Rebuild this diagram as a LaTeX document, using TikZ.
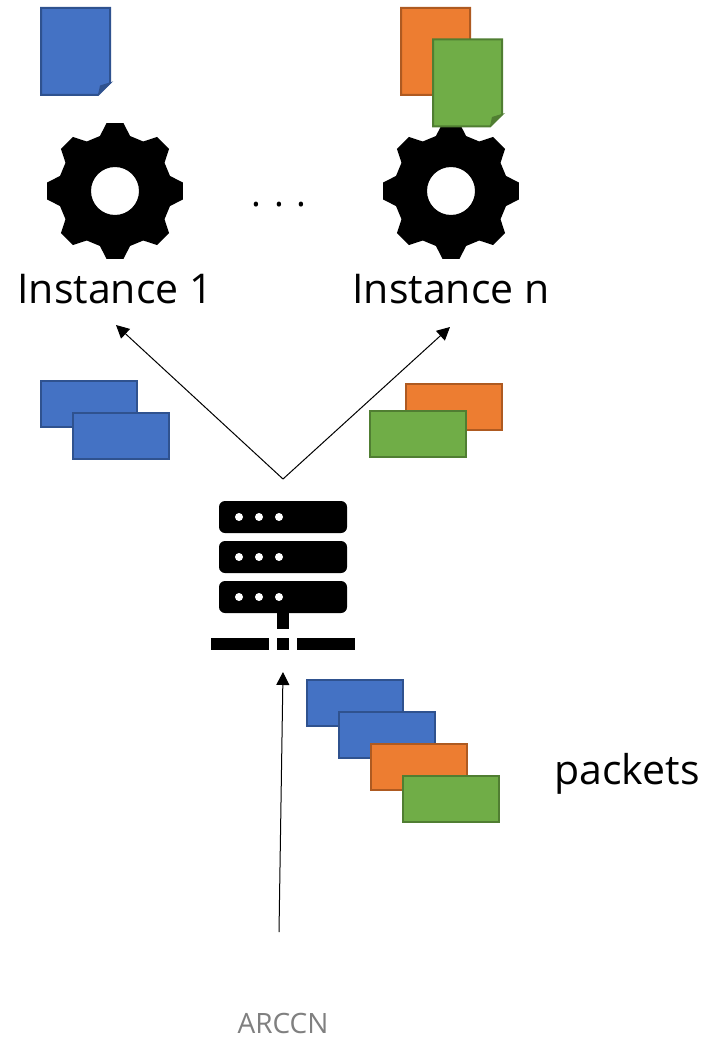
\documentclass[tikz,border=0pt]{standalone}
\usepackage{fontspec}
\setmainfont{Open Sans}
\usetikzlibrary{arrows.meta}
\definecolor{blueF}{HTML}{4472C4}
\definecolor{blueD}{HTML}{2F528F}
\definecolor{orangeF}{HTML}{ED7D31}
\definecolor{orangeD}{HTML}{AE5A21}
\definecolor{greenF}{HTML}{70AD47}
\definecolor{greenD}{HTML}{507E32}
\begin{document}
\begin{tikzpicture}[x=1pt,y=-1pt,
  packet/.style={draw=#1D,fill=#1F,line width=2pt,minimum width=96pt,minimum height=46pt,inner sep=0pt},
  label/.style={font=\fontsize{41}{44}\selectfont,text=black,inner sep=0pt},
  bar/.style={fill=black,rounded corners=6pt,minimum width=128pt,minimum height=32pt,inner sep=0pt},
  base/.style={fill=black,minimum height=12pt,inner sep=0pt},
  flow/.style={-{Triangle[length=13pt,width=13pt]},line width=1pt},
  gear/.pic={
    \fill[black,even odd rule] (-7.1:68.5)
      foreach \a in {0,45,...,315} {
        -- ({\a-7.1}:68.5) -- ({\a+7.1}:68.5) -- ({\a+15.3}:57) -- ({\a+29.7}:57)
      } -- cycle (0,0) circle (24);
  },
  doc/.pic={
    \draw[draw=#1D,fill=#1F,line width=2pt] (-34.5,-43.5) -- (34.5,-43.5) -- (34.5,31.5) -- (22.5,43.5) -- (-34.5,43.5) -- cycle;
    \fill[#1D] (22.5,43.5) -- (24.5,34) -- (37.5,30) -- cycle;
  }]
\useasboundingbox (0,0) rectangle (705,1038);

% instances
\pic (gear1) at (115,191) {gear};
\pic (gearn) at (451,191) {gear};
\pic (doc1) at (75.5,51.5) {doc=blue};
\pic (doc2) at (435.5,51.5) {doc=orange};
\pic (doc3) at (467.5,83) {doc=green};
\node [label] (inst1) at (115,289) {Instance 1};
\node [label] (instn) at (451,289) {Instance n};
\node [label,font=\fontsize{37}{40}\selectfont] (dots) at (279,205) {. . .};

% packets above the server
\node [packet=blue] (p1) at (89,403.5) {};
\node [packet=blue] (p2) at (121,435.5) {};
\node [packet=orange] (p3) at (453.5,406.5) {};
\node [packet=green] (p4) at (417.5,433.5) {};

% server
\node [bar] (bar1) at (283,517) {};
\node [bar] (bar2) at (283,557) {};
\node [bar] (bar3) at (283,597) {};
\foreach \y in {517,557,597}
  \foreach \x in {239,259,279}
    \fill[white] (\x,\y) circle (4);
\node [base,minimum width=12pt,minimum height=16pt] (stem) at (283,621) {};
\node [base,minimum width=58pt] (baseL) at (240,644) {};
\node [base,minimum width=12pt] (baseM) at (283,644) {};
\node [base,minimum width=58pt] (baseR) at (326,644) {};

% packets below the server
\node [packet=blue] (q1) at (355,702.5) {};
\node [packet=blue] (q2) at (387,734.5) {};
\node [packet=orange] (q3) at (419,766.5) {};
\node [packet=green] (q4) at (451,798.5) {};
\node [label] (pkts) at (627,774) {packets};

\coordinate (split) at (283,479);
\coordinate (in1) at (116,325);
\coordinate (inn) at (450,327);
\coordinate (src) at (279,932);
\coordinate (srv) at (283,672);
\draw [flow] (split) -- (in1);
\draw [flow] (split) -- (inn);
\draw [flow] (src) -- (srv);

\node [font=\fontsize{28}{30}\selectfont,text=black!50,inner sep=0pt] (arccn) at (283,1023) {ARCCN};
\end{tikzpicture}
\end{document}
